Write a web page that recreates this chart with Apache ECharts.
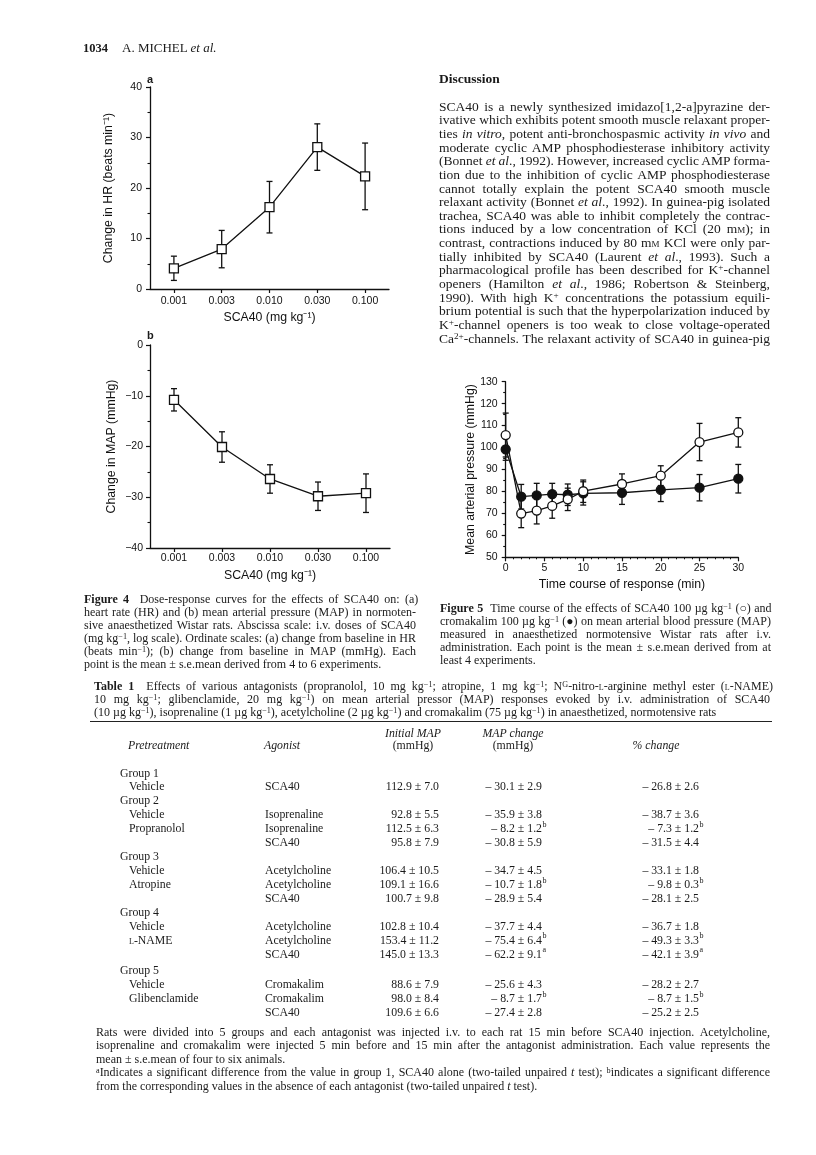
<!DOCTYPE html>
<html><head><meta charset="utf-8">
<script src="https://cdn.jsdelivr.net/npm/echarts@6/dist/echarts.min.js"></script>
<style>
html,body{margin:0;padding:0;background:#fff;}
#page{position:relative;width:816px;height:1155px;overflow:hidden;background:#fff;color:#1a1a1a;font-family:"Liberation Serif","Times New Roman",serif;}
#chart{position:absolute;left:0;top:0;width:816px;height:1155px;}
.t{position:absolute;white-space:nowrap;z-index:5;}
sup{font-size:0.68em;line-height:0;vertical-align:0.42em;}
.sc{font-variant:small-caps;}
.rule{position:absolute;height:1.4px;background:#222;z-index:5;}
</style></head>
<body><div id="page"><div id="chart"></div></div>
<script>
// ---------------- data ----------------
const doses = ['0.001','0.003','0.010','0.030','0.100'];
const hrMean = [4.1, 7.9, 16.2, 28.1, 22.3];
const hrSem  = [2.4, 3.7, 5.1, 4.6, 6.6];
const mapMean = [-10.8, -20.1, -26.4, -29.8, -29.2];
const mapSem  = [2.2, 3.0, 2.8, 2.8, 3.8];
const times = [0, 2, 4, 6, 8, 10, 15, 20, 25, 30];
const scaMean  = [105.7, 69.9, 71.3, 73.4, 76.4, 80.1, 83.4, 87.2, 102.5, 106.9];
const scaSem   = [10.0, 6.4, 6.1, 5.6, 5.1, 5.1, 4.6, 4.5, 8.5, 6.7];
const cromMean = [99.2, 77.6, 78.2, 78.8, 78.5, 79.1, 79.4, 80.7, 81.7, 85.8];
const cromSem  = [5.0, 5.6, 5.5, 4.9, 4.9, 5.3, 5.3, 5.3, 6.0, 6.5];
const hrTicks = [0, 10, 20, 30, 40];
const mapTicks = [-40, -30, -20, -10, 0];

// table 1
const groupNames = ['Group 1','Group 2','Group 3','Group 4','Group 5'];
const rowGroup = [0,1,1,1,2,2,2,3,3,3,4,4,4];
const pretreatment = ['Vehicle','Vehicle','Propranolol','','Vehicle','Atropine','','Vehicle','<span class="sc">l</span>-NAME','','Vehicle','Glibenclamide',''];
const agonist = ['SCA40','Isoprenaline','Isoprenaline','SCA40','Acetylcholine','Acetylcholine','SCA40','Acetylcholine','Acetylcholine','SCA40','Cromakalim','Cromakalim','SCA40'];
const initMean = [112.9, 92.8, 112.5, 95.8, 106.4, 109.1, 100.7, 102.8, 153.4, 145.0, 88.6, 98.0, 109.6];
const initSem  = [7.0, 5.5, 6.3, 7.9, 10.5, 16.6, 9.8, 10.4, 11.2, 13.3, 7.9, 8.4, 6.6];
const chgMean = [-30.1, -35.9, -8.2, -30.8, -34.7, -10.7, -28.9, -37.7, -75.4, -62.2, -25.6, -8.7, -27.4];
const chgSem  = [2.9, 3.8, 1.2, 5.9, 4.5, 1.8, 5.4, 4.4, 6.4, 9.1, 4.3, 1.7, 2.8];
const chgSig  = ['','','b','','','b','','','b','a','','b',''];
const pctMean = [-26.8, -38.7, -7.3, -31.5, -33.1, -9.8, -28.1, -36.7, -49.3, -42.1, -28.2, -8.7, -25.2];
const pctSem  = [2.6, 3.6, 1.2, 4.4, 1.8, 0.3, 2.5, 1.8, 3.3, 3.9, 2.7, 1.5, 2.5];
const pctSig  = ['','','b','','','b','','','b','a','','b',''];

// ---------------- texts ----------------
const discussion = [
 'SCA40 is a newly synthesized imidazo[1,2-a]pyrazine der-',
 'ivative which exhibits potent smooth muscle relaxant proper-',
 'ties <i>in vitro</i>, potent anti-bronchospasmic activity <i>in vivo</i> and',
 'moderate cyclic AMP phosphodiesterase inhibitory activity',
 '(Bonnet <i>et al</i>., 1992). However, increased cyclic AMP forma-',
 'tion due to the inhibition of cyclic AMP phosphodiesterase',
 'cannot totally explain the potent SCA40 smooth muscle',
 'relaxant activity (Bonnet <i>et al</i>., 1992). In guinea-pig isolated',
 'trachea, SCA40 was able to inhibit completely the contrac-',
 'tions induced by a low concentration of KCl (20 m<span class="sc">m</span>); in',
 'contrast, contractions induced by 80 m<span class="sc">m</span> KCl were only par-',
 'tially inhibited by SCA40 (Laurent <i>et al</i>., 1993). Such a',
 'pharmacological profile has been described for K<sup>+</sup>-channel',
 'openers (Hamilton <i>et al</i>., 1986; Robertson &amp; Steinberg,',
 '1990). With high K<sup>+</sup> concentrations the potassium equili-',
 'brium potential is such that the hyperpolarization induced by',
 'K<sup>+</sup>-channel openers is too weak to close voltage-operated',
 'Ca<sup>2+</sup>-channels. The relaxant activity of SCA40 in guinea-pig'
];
const fig4Caption = [
 '<b>Figure 4</b>&nbsp; Dose-response curves for the effects of SCA40 on: (a)',
 'heart rate (HR) and (b) mean arterial pressure (MAP) in normoten-',
 'sive anaesthetized Wistar rats. Abscissa scale: i.v. doses of SCA40',
 '(mg kg<sup>−1</sup>, log scale). Ordinate scales: (a) change from baseline in HR',
 '(beats min<sup>−1</sup>); (b) change from baseline in MAP (mmHg). Each',
 'point is the mean ± s.e.mean derived from 4 to 6 experiments.'
];
const fig5Caption = [
 '<b>Figure 5</b>&nbsp; Time course of the effects of SCA40 100 µg kg<sup>−1</sup> (○) and',
 'cromakalim 100 µg kg<sup>−1</sup> (●) on mean arterial blood pressure (MAP)',
 'measured in anaesthetized normotensive Wistar rats after i.v.',
 'administration. Each point is the mean ± s.e.mean derived from at',
 'least 4 experiments.'
];
const tableCaption = [
 '<b>Table 1</b>&nbsp; Effects of various antagonists (propranolol, 10 mg kg<sup>−1</sup>; atropine, 1 mg kg<sup>−1</sup>; N<sup>G</sup>-nitro-<span class="sc">l</span>-arginine methyl ester (<span class="sc">l</span>-NAME)',
 '10 mg kg<sup>−1</sup>; glibenclamide, 20 mg kg<sup>−1</sup>) on mean arterial pressor (MAP) responses evoked by i.v. administration of SCA40',
 '(10 µg kg<sup>−1</sup>), isoprenaline (1 µg kg<sup>−1</sup>), acetylcholine (2 µg kg<sup>−1</sup>) and cromakalim (75 µg kg<sup>−1</sup>) in anaesthetized, normotensive rats'
];
const tableNotes = [
 'Rats were divided into 5 groups and each antagonist was injected i.v. to each rat 15 min before SCA40 injection. Acetylcholine,',
 'isoprenaline and cromakalim were injected 5 min before and 15 min after the antagonist administration. Each value represents the',
 'mean ± s.e.mean of four to six animals.',
 '<sup>a</sup>Indicates a significant difference from the value in group 1, SCA40 alone (two-tailed unpaired <i>t</i> test); <sup>b</sup>indicates a significant difference',
 'from the corresponding values in the absence of each antagonist (two-tailed unpaired <i>t</i> test).'
];

// ---------------- text placement ----------------
const page = document.getElementById('page');
function put(x, yc, html, o) {
  o = o || {};
  const d = document.createElement('div');
  d.className = 't';
  d.innerHTML = html;
  const fs = o.fs || 11, lh = o.lh || 14;
  d.style.fontSize = fs + 'px';
  d.style.lineHeight = lh + 'px';
  d.style.top = (yc - lh / 2) + 'px';
  if (o.bold) d.style.fontWeight = 'bold';
  if (o.italic) d.style.fontStyle = 'italic';
  if (o.font) d.style.fontFamily = o.font;
  page.appendChild(d);
  const w = d.getBoundingClientRect().width;
  if (o.align === 'right') d.style.left = (x - w) + 'px';
  else if (o.align === 'center') d.style.left = (x - w / 2) + 'px';
  else d.style.left = x + 'px';
  if (o.justify) {
    const spaces = (d.textContent.match(/ /g) || []).length;
    if (spaces) d.style.wordSpacing = ((o.justify - w) / spaces) + 'px';
  }
  return d;
}
function rule(x, y, w) {
  const r = document.createElement('div');
  r.className = 'rule';
  r.style.left = x + 'px'; r.style.top = y + 'px'; r.style.width = w + 'px';
  page.appendChild(r);
}
const sans = '"Liberation Sans", Arial, sans-serif';

put(83, 48, '1034', {fs: 12.5, bold: true});
put(122, 48, 'A. MICHEL <i>et al.</i>', {fs: 13});
put(439, 79, 'Discussion', {fs: 13.5, bold: true});
discussion.forEach((l, i) => put(439, 106.7 + 13.64 * i, l, {fs: 13.5, lh: 14, justify: 331}));

const capFs = 12;
fig4Caption.forEach((l, i) => put(84, 599 + 13.1 * i, l, {fs: capFs, lh: 13, justify: i < fig4Caption.length - 1 ? 332 : 0}));
fig5Caption.forEach((l, i) => put(440, 608 + 13.2 * i, l, {fs: capFs, lh: 13, justify: i < fig5Caption.length - 1 ? 331 : 0}));
tableCaption.forEach((l, i) => put(94, 686 + 13 * i, l, {fs: capFs, lh: 13, justify: i < tableCaption.length - 1 ? 676 : 0}));
rule(90, 720.5, 682);

// table header
const tFs = 11.8;
put(413, 733, 'Initial MAP', {fs: tFs, italic: true, align: 'center'});
put(413, 745, '(mmHg)', {fs: tFs, align: 'center'});
put(513, 733, 'MAP change', {fs: tFs, italic: true, align: 'center'});
put(513, 745, '(mmHg)', {fs: tFs, align: 'center'});
put(128, 745, 'Pretreatment', {fs: tFs, italic: true});
put(264, 745, 'Agonist', {fs: tFs, italic: true});
put(656, 745, '% change', {fs: tFs, italic: true, align: 'center'});

function fmtPos(m, s) { return m.toFixed(1) + ' ± ' + s.toFixed(1); }
function fmtNeg(m, s) { return '– ' + Math.abs(m).toFixed(1) + ' ± ' + s.toFixed(1); }
let y = 772.5, lastG = -1;
const step = 13.95;
rowGroup.forEach((g, i) => {
  if (g !== lastG) {
    if (g === 4) y += 2.5;
    put(120, y, groupNames[g], {fs: tFs});
    y += step; lastG = g;
  }
  if (pretreatment[i]) put(129, y, pretreatment[i], {fs: tFs});
  put(265, y, agonist[i], {fs: tFs});
  put(439, y, fmtPos(initMean[i], initSem[i]), {fs: tFs, align: 'right'});
  put(542, y, fmtNeg(chgMean[i], chgSem[i]), {fs: tFs, align: 'right'});
  if (chgSig[i]) put(542.5, y - 3.5, chgSig[i], {fs: 8});
  put(699, y, fmtNeg(pctMean[i], pctSem[i]), {fs: tFs, align: 'right'});
  if (pctSig[i]) put(699.5, y - 3.5, pctSig[i], {fs: 8});
  y += step;
});
tableNotes.forEach((l, i) => put(96, 1032.5 + 13.4 * i, l, {fs: capFs, lh: 13, justify: (i === 2 || i === 4) ? 0 : 674}));

// panel letters
put(147, 79, 'a', {fs: 11, bold: true, font: sans});
put(147, 335, 'b', {fs: 11, bold: true, font: sans});

// ---------------- chart ----------------
const ink = '#111';
const tickFont = {fontFamily: sans, fontSize: 10.5, color: ink};
const nameFont = {fontFamily: sans, fontSize: 12.3, color: ink};
function errSeries(xi, xs, means, sems) {
  return {
    type: 'custom', xAxisIndex: xi, yAxisIndex: xi, z: 1, silent: true,
    data: means.map((m, i) => [xs[i], m - sems[i], m + sems[i]]),
    encode: {x: 0, y: [1, 2]},
    renderItem: (params, api) => {
      const lo = api.coord([api.value(0), api.value(1)]);
      const hi = api.coord([api.value(0), api.value(2)]);
      const c = 3, st = {stroke: ink, lineWidth: 1.3};
      return {type: 'group', children: [
        {type: 'line', shape: {x1: lo[0], y1: lo[1], x2: hi[0], y2: hi[1]}, style: st},
        {type: 'line', shape: {x1: lo[0] - c, y1: lo[1], x2: lo[0] + c, y2: lo[1]}, style: st},
        {type: 'line', shape: {x1: hi[0] - c, y1: hi[1], x2: hi[0] + c, y2: hi[1]}, style: st}
      ]};
    }
  };
}
function lineSeries(xi, xs, means, symbol, fill) {
  return {
    type: 'line', xAxisIndex: xi, yAxisIndex: xi, z: 3, silent: true,
    data: means.map((m, i) => [xs[i], m]),
    symbol: symbol, symbolSize: 9, showAllSymbol: true,
    lineStyle: {color: ink, width: 1.3},
    itemStyle: {color: fill, borderColor: ink, borderWidth: 1.3}
  };
}
const axLine = {show: true, onZero: false, lineStyle: {color: ink, width: 1.3}};
const idx = doses.map((d, i) => i);
function doseAxis(g, margin, gap) {
  return {
    gridIndex: g, type: 'value', min: -0.5, max: 4.5,
    axisLine: axLine,
    axisTick: {show: true, customValues: idx, length: 4, lineStyle: {color: ink, width: 1.2}},
    axisLabel: Object.assign({customValues: idx, formatter: v => doses[v], margin: margin}, tickFont),
    splitLine: {show: false},
    name: 'SCA40 (mg kg⁻¹)', nameLocation: 'middle', nameGap: gap, nameTextStyle: nameFont
  };
}
const minor = {show: true, splitNumber: 2, length: 2.5, lineStyle: {color: ink, width: 1.1}};
const yTick = {show: true, length: 4, lineStyle: {color: ink, width: 1.2}};

const chart = echarts.init(document.getElementById('chart'), null, {renderer: 'canvas'});
chart.setOption({
  animation: false,
  backgroundColor: 'transparent',
  grid: [
    {left: 150, top: 87, width: 239, height: 202},
    {left: 150, top: 345, width: 240, height: 203},
    {left: 505.7, top: 381.7, width: 232.6, height: 175.6}
  ],
  xAxis: [
    doseAxis(0, 7, 23),
    doseAxis(1, 5, 22),
    {
      gridIndex: 2, type: 'value', min: 0, max: 30, interval: 5,
      axisLine: axLine, axisTick: yTick,
      minorTick: {show: true, splitNumber: 5, length: 2, lineStyle: {color: ink, width: 1}},
      axisLabel: Object.assign({margin: 5}, tickFont),
      splitLine: {show: false},
      name: 'Time course of response (min)', nameLocation: 'middle', nameGap: 21, nameTextStyle: nameFont
    }
  ],
  yAxis: [
    {
      gridIndex: 0, type: 'value', min: hrTicks[0], max: hrTicks[hrTicks.length - 1], interval: 10,
      axisLine: axLine, axisTick: yTick, minorTick: minor,
      axisLabel: Object.assign({margin: 8}, tickFont), splitLine: {show: false},
      name: 'Change in HR (beats min⁻¹)', nameLocation: 'middle', nameRotate: 90, nameGap: 35, nameTextStyle: nameFont
    },
    {
      gridIndex: 1, type: 'value', min: mapTicks[0], max: mapTicks[mapTicks.length - 1], interval: 10,
      axisLine: axLine, axisTick: yTick, minorTick: minor,
      axisLabel: Object.assign({margin: 7, formatter: v => (v < 0 ? '\u2212' + Math.abs(v) : '' + v)}, tickFont), splitLine: {show: false},
      name: 'Change in MAP (mmHg)', nameLocation: 'middle', nameRotate: 90, nameGap: 32, nameTextStyle: nameFont
    },
    {
      gridIndex: 2, type: 'value', min: 50, max: 130, interval: 10,
      axisLine: axLine, axisTick: yTick, minorTick: minor,
      axisLabel: Object.assign({margin: 8}, tickFont), splitLine: {show: false},
      name: 'Mean arterial pressure (mmHg)', nameLocation: 'middle', nameRotate: 90, nameGap: 29, nameTextStyle: nameFont
    }
  ],
  series: [
    errSeries(0, idx, hrMean, hrSem),
    lineSeries(0, idx, hrMean, 'rect', '#fff'),
    errSeries(1, idx, mapMean, mapSem),
    lineSeries(1, idx, mapMean, 'rect', '#fff'),
    errSeries(2, times, cromMean, cromSem),
    errSeries(2, times, scaMean, scaSem),
    lineSeries(2, times, cromMean, 'circle', ink),
    lineSeries(2, times, scaMean, 'circle', '#fff')
  ]
});
</script>
</body></html>
